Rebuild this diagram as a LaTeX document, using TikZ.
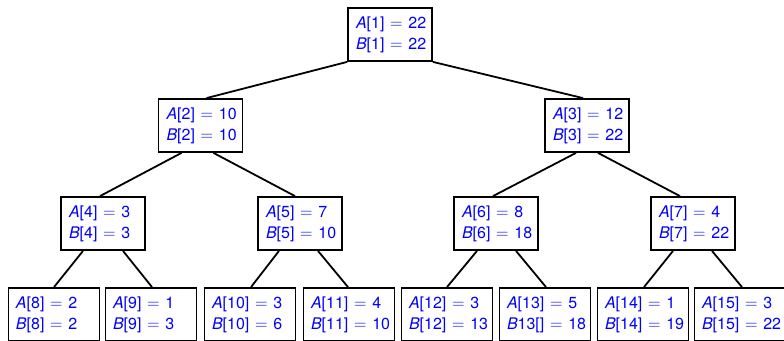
\documentclass[tikz,border=0pt]{standalone}
\usepackage{fontspec}
\setmainfont{TeX Gyre Heros}
\newcommand\myeq{$\mskip6mu=\mskip6mu$}
\newcommand\myent[3]{\mbox{\textit{#1}[#2]\myeq#3}}
\newcommand\mypair[3]{\myent{A}{#1}{#2}\\\myent{B}{#1}{#3}}
\tikzset{
  box/.style={draw, line width=1.8pt, minimum height=53pt, text width=68pt,
    inner xsep=8pt, inner ysep=0pt, align=left, text=blue,
    font=\fontsize{16}{21}\selectfont},
  leaf/.style={box, text width=76pt, inner xsep=7.5pt},
  link/.style={line width=1.8pt}
}
\begin{document}
\begin{tikzpicture}[x=1pt,y=-1pt]
\useasboundingbox (0,0) rectangle (784,340);
\node[box] (n1) at (390,34.5) {\mypair{1}{22}{22}};
\node[box] (n2) at (200.5,125.5) {\mypair{2}{10}{10}};
\node[box] (n3) at (587,125.5) {\mypair{3}{12}{22}};
\node[box] (n4) at (103,223.5) {\mypair{4}{3}{3}};
\node[box] (n5) at (300,223.5) {\mypair{5}{7}{10}};
\node[box] (n6) at (496,223.5) {\mypair{6}{8}{18}};
\node[box] (n7) at (693,223.5) {\mypair{7}{4}{22}};
\node[leaf] (n8) at (54,314.5) {\mypair{8}{2}{2}};
\node[leaf] (n9) at (151,314.5) {\mypair{9}{1}{3}};
\node[leaf] (n10) at (250,314.5) {\mypair{10}{3}{6}};
\node[leaf] (n11) at (349,314.5) {\mypair{11}{4}{10}};
\node[leaf] (n12) at (447,314.5) {\mypair{12}{3}{13}};
\node[leaf] (n13) at (545,314.5) {\myent{A}{13}{5}\\\mbox{\textit{B}13[]\myeq18}};
\node[leaf] (n14) at (643,314.5) {\mypair{14}{1}{19}};
\node[leaf] (n15) at (740,314.5) {\mypair{15}{3}{22}};
\draw[link] (n1.south west) -- ([xshift=6pt]n2.north);
\draw[link] (n1.south east) -- ([xshift=-4pt]n3.north);
\draw[link] ([xshift=-19pt]n2.south) -- ([xshift=-3pt]n4.north);
\draw[link] ([xshift=13pt]n2.south) -- ([xshift=-5pt]n5.north);
\draw[link] ([xshift=-11pt]n3.south) -- ([xshift=-3pt]n6.north);
\draw[link] ([xshift=11pt]n3.south) -- ([xshift=-13pt]n7.north);
\draw[link] ([xshift=-20pt]n4.south) -- (n8.north);
\draw[link] ([xshift=20pt]n4.south) -- ([xshift=1pt]n9.north);
\draw[link] ([xshift=-21pt]n5.south) -- ([xshift=1pt]n10.north);
\draw[link] ([xshift=18pt]n5.south) -- ([xshift=-1pt]n11.north);
\draw[link] ([xshift=-19pt]n6.south) -- (n12.north);
\draw[link] ([xshift=20pt]n6.south) -- ([xshift=1pt]n13.north);
\draw[link] ([xshift=-20pt]n7.south) -- ([xshift=1pt]n14.north);
\draw[link] ([xshift=19pt]n7.south) -- ([xshift=2pt]n15.north);
\end{tikzpicture}
\end{document}
